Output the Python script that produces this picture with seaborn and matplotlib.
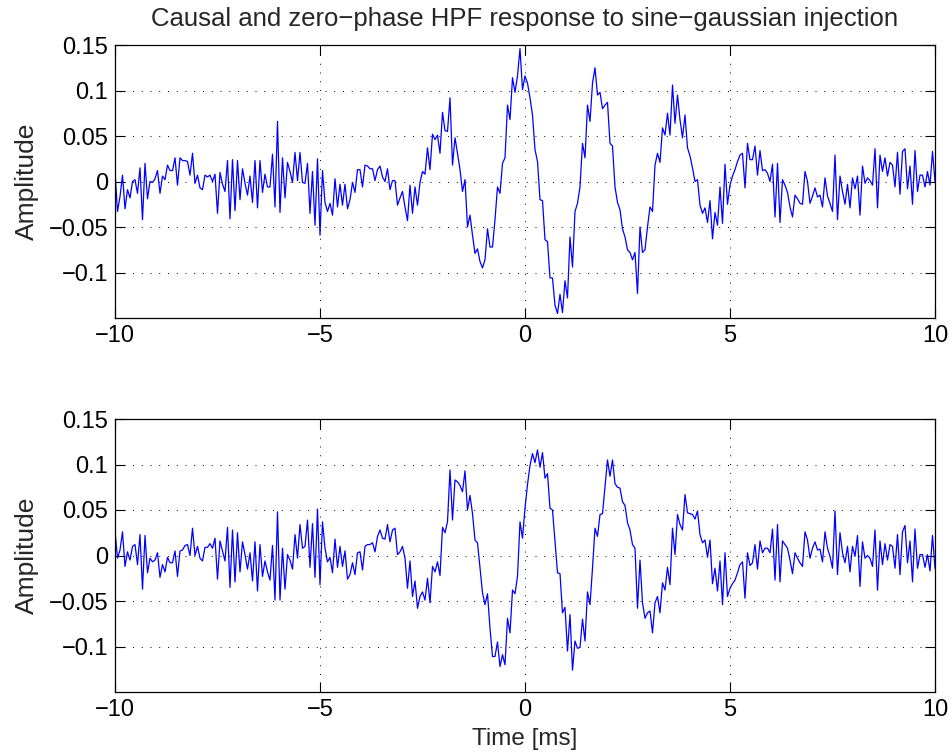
import numpy as np
import matplotlib
matplotlib.use("Agg")
import matplotlib.pyplot as plt
import seaborn as sns

# ---- data (amplitude vs time, ms) ----
causal_a = [0.011, -0.033, -0.0165, 0.007, -0.030, -0.009, -0.018, 0.0, 0.002, -0.013, 0.015, -0.042, 0.020,
            -0.019, 0.0, -0.001, 0.003, 0.012, -0.013, 0.006, 0.002, 0.018, 0.012, 0.012, 0.026, -0.004, 0.026,
            0.023, 0.023, 0.022, 0.007, 0.031, -0.002, 0.007, -0.007, -0.009, 0.007, 0.005, 0.007, 0.0, 0.008,
            -0.035, 0.010, -0.003, -0.011, 0.023, -0.041, 0.024, -0.032, 0.023, -0.020, 0.014, -0.002, -0.015,
            0.006, -0.023, 0.023, -0.029, 0.023, -0.012, 0.008, -0.006, -0.006, 0.030, -0.028, 0.066, -0.034, 0.026]
causal_b = [-0.018, 0.021, 0.011, -0.001, 0.032, 0.001, 0.032, -0.001, -0.002, 0.020, -0.035, 0.011, -0.048,
            0.025, -0.059, 0.012, -0.023, -0.033, -0.024, -0.037, 0.003, -0.028, -0.003, -0.026, -0.003, -0.030,
            -0.020, -0.001, -0.012, 0.013, 0.013, -0.006, 0.018, 0.017, 0.014, 0.014, 0.001, 0.013, 0.017, 0.005,
            0.0, 0.014, -0.009, 0.001, 0.001, -0.026, -0.018, -0.011, -0.028, -0.043, -0.004, -0.035, -0.006,
            -0.026, -0.001, 0.011, 0.008, 0.037, 0.013, 0.052, 0.046, 0.051, 0.031, 0.076, 0.056, 0.055]
causal_c = [0.092, 0.018, 0.048, 0.031, 0.013, -0.011, 0.002, -0.050, -0.037, -0.059, -0.079, -0.074, -0.088,
            -0.095, -0.086, -0.052, -0.072, -0.072, -0.042, -0.006, -0.013, 0.020, 0.026, 0.084, 0.068, 0.114,
            0.098, 0.116, 0.146, 0.101, 0.116, 0.108, 0.092, 0.073, 0.035, 0.022, -0.020, -0.021, -0.064, -0.066,
            -0.106, -0.106, -0.136, -0.145, -0.124, -0.144, -0.109, -0.128, -0.061, -0.094, -0.033, -0.024,
            -0.006, 0.042, 0.026, 0.084, 0.066, 0.108, 0.125, 0.095, 0.098, 0.080, 0.084, 0.087, 0.042, 0.039]
causal_d = [-0.006, -0.023, -0.031, -0.052, -0.061, -0.075, -0.078, -0.086, -0.078, -0.123, -0.050, -0.078,
            -0.075, -0.050, -0.028, -0.033, 0.018, 0.031, 0.021, 0.059, 0.051, 0.075, 0.051, 0.106, 0.064, 0.095,
            0.068, 0.048, 0.073, 0.037, 0.028, 0.015, 0.0, 0.002, -0.026, -0.035, -0.029, -0.045, -0.021, -0.063,
            -0.034, -0.048, -0.006, -0.046, 0.019, -0.025, -0.004, 0.006, 0.013, 0.022, 0.029, 0.031, -0.007,
            0.042, 0.024, 0.024, 0.039, 0.007, 0.034, 0.012, 0.013, 0.009, 0.0, 0.019, -0.039, 0.020]
causal_e = [-0.045, 0.002, -0.004, -0.012, -0.028, -0.039, -0.015, -0.019, -0.024, -0.025, 0.011, 0.0, -0.024,
            -0.016, -0.007, -0.017, -0.015, -0.028, 0.004, -0.016, -0.024, -0.033, 0.029, -0.042, 0.006, -0.011,
            -0.025, -0.003, -0.029, 0.004, -0.008, 0.006, -0.037, 0.017, -0.002, 0.004, 0.001, -0.004, 0.036,
            -0.029, 0.029, 0.011, 0.026, 0.006, 0.021, 0.018, -0.006, 0.032, -0.014, 0.033, 0.036, -0.008, 0.017,
            -0.025, 0.034, -0.011, 0.007, 0.007, -0.006, 0.011, -0.004, 0.033, 0.0]

zerophase_a = [0.027, -0.003, 0.006, 0.026, -0.012, 0.004, -0.005, 0.010, 0.012, -0.010, 0.023, -0.037, 0.022,
               -0.019, -0.003, -0.007, -0.005, 0.003, -0.024, -0.010, -0.018, -0.002, -0.008, -0.008, 0.005,
               -0.023, 0.005, 0.006, 0.011, 0.012, 0.0, 0.030, 0.0, 0.010, -0.003, -0.006, 0.009, 0.009, 0.013,
               0.008, 0.019, -0.026, 0.016, 0.005, -0.006, 0.031, -0.035, 0.028, -0.029, 0.025, -0.018, 0.015,
               0.001, -0.015, 0.003, -0.028, 0.015, -0.039, 0.012, -0.023, -0.006, -0.018, -0.027, 0.011, -0.049,
               0.048, -0.049, 0.008]
zerophase_b = [-0.037, 0.001, -0.005, -0.015, 0.023, -0.003, 0.034, 0.008, 0.010, 0.039, -0.013, 0.035, -0.024,
               0.051, -0.032, 0.037, 0.008, -0.007, -0.002, -0.019, 0.018, -0.013, 0.010, -0.012, 0.005, -0.026,
               -0.021, -0.008, -0.021, 0.003, 0.004, -0.016, 0.010, 0.012, 0.012, 0.014, 0.004, 0.021, 0.028, 0.019,
               0.018, 0.034, 0.015, 0.028, 0.030, 0.001, 0.004, 0.010, -0.003, -0.036, -0.006, -0.045, -0.028,
               -0.058, -0.045, -0.040, -0.049, -0.025, -0.052, -0.012, -0.018, -0.007, -0.022, 0.031, 0.025, 0.037]
zerophase_c = [0.094, 0.039, 0.083, 0.081, 0.077, 0.070, 0.093, 0.050, 0.066, 0.046, 0.017, 0.014, -0.014,
               -0.041, -0.054, -0.042, -0.080, -0.111, -0.111, -0.095, -0.122, -0.109, -0.120, -0.069, -0.085,
               -0.038, -0.042, -0.023, 0.037, 0.019, 0.052, 0.078, 0.099, 0.112, 0.102, 0.116, 0.097, 0.113, 0.085,
               0.090, 0.052, 0.050, 0.015, -0.019, -0.020, -0.063, -0.057, -0.105, -0.065, -0.126, -0.094, -0.102,
               -0.101, -0.070, -0.094, -0.040, -0.054, -0.014, 0.030, 0.021, 0.045, 0.046, 0.075, 0.105, 0.087, 0.105]
zerophase_d = [0.079, 0.075, 0.074, 0.059, 0.055, 0.036, 0.028, 0.012, 0.008, -0.058, -0.005, -0.052, -0.069,
               -0.063, -0.061, -0.085, -0.052, -0.045, -0.063, -0.030, -0.038, -0.013, -0.032, 0.030, 0.001, 0.045,
               0.034, 0.028, 0.067, 0.047, 0.046, 0.045, 0.040, 0.049, 0.023, 0.014, 0.017, -0.002, 0.017, -0.031,
               -0.014, -0.039, -0.006, -0.054, 0.003, -0.045, -0.036, -0.031, -0.027, -0.019, -0.010, -0.007,
               -0.047, 0.003, -0.011, -0.008, 0.012, -0.015, 0.016, 0.003, 0.008, 0.008, 0.003, 0.029, -0.027, 0.034]
zerophase_e = [-0.029, 0.016, 0.012, 0.008, -0.005, -0.020, 0.003, -0.003, -0.008, -0.012, 0.026, 0.017, -0.003,
               0.008, 0.015, 0.006, 0.007, -0.007, 0.026, 0.008, -0.001, -0.014, 0.049, -0.021, 0.025, 0.003,
               -0.008, 0.010, -0.018, 0.010, -0.001, 0.022, -0.034, 0.015, -0.003, 0.0, -0.003, -0.012, 0.028,
               -0.038, 0.016, -0.010, 0.013, -0.005, 0.012, 0.010, -0.014, 0.023, -0.021, 0.026, 0.033, -0.008,
               0.016, -0.029, 0.029, -0.014, 0.001, 0.001, -0.013, 0.001, -0.017, 0.022, -0.014]

t_start, t_end = -10, 10
xticks = [-10, -5, 0, 5, 10]
yticks = [-0.1, -0.05, 0, 0.05, 0.1, 0.15]
ytick_labels = ["\u22120.1", "\u22120.05", "0", "0.05", "0.1", "0.15"]
xtick_labels = ["\u221210", "\u22125", "0", "5", "10"]
title = "Causal and zero\u2212phase HPF response to sine\u2212gaussian injection"

causal = np.array(causal_a + causal_b + causal_c + causal_d + causal_e)
zerophase = np.array(zerophase_a + zerophase_b + zerophase_c + zerophase_d + zerophase_e)

sns.set_style("white")
plt.rcParams['font.family'] = ['Liberation Sans', 'DejaVu Sans']
plt.rcParams['axes.unicode_minus'] = True

fig = plt.figure(figsize=(9.52, 7.55), dpi=100)
ax1 = fig.add_axes([115/952, 1-318/755, 820/952, 273/755])
ax2 = fig.add_axes([115/952, 1-692/755, 820/952, 273/755])

for ax, vals in ((ax1, causal), (ax2, zerophase)):
    tt = np.linspace(t_start, t_end, len(vals))
    sns.lineplot(x=tt, y=vals, ax=ax, color=(0, 0, 1), lw=0.9, estimator=None, sort=False)
    ax.set_xlim(t_start, t_end)
    ax.set_ylim(-0.15, 0.15)
    ax.set_xticks(xticks)
    ax.set_xticklabels(xtick_labels)
    ax.set_yticks(yticks)
    ax.set_yticklabels(ytick_labels)
    ax.grid(True, color='black', linestyle=(0, (1, 8)), linewidth=0.7)
    ax.tick_params(direction='in', length=7, width=0.8, labelsize=17, top=True, right=True,
                   bottom=True, left=True, pad=5, colors='black')
    for s in ax.spines.values():
        s.set_visible(True)
        s.set_color('black')
        s.set_linewidth(0.9)
    ax.set_ylabel("Amplitude", fontsize=19, labelpad=7)

ax1.set_title(title, fontsize=18.5, pad=14)
ax2.set_xlabel("Time [ms]", fontsize=17.5, labelpad=5)

fig.savefig("out.png", dpi=100)
